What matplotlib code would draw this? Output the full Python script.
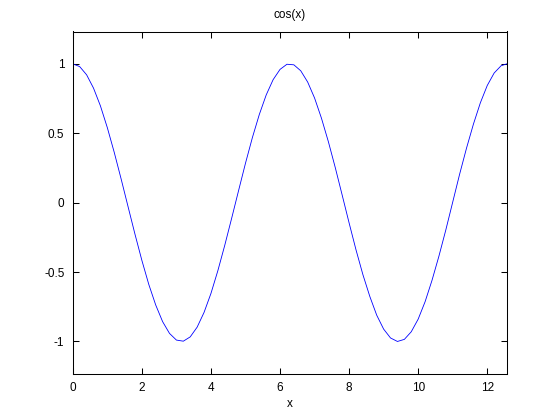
import matplotlib
matplotlib.use("Agg")
import matplotlib.pyplot as plt

# Values
x = [0.0, 0.2, 0.4, 0.6, 0.8, 1.0, 1.2, 1.4, 1.6, 1.8, 2.0, 2.2, 2.4, 2.6, 2.8,
     3.0, 3.2, 3.4, 3.6, 3.8, 4.0, 4.2, 4.4, 4.6, 4.8, 5.0, 5.2, 5.4, 5.6, 5.8,
     6.0, 6.2, 6.4, 6.6, 6.8, 7.0, 7.2, 7.4, 7.6, 7.8, 8.0, 8.2, 8.4, 8.6, 8.8,
     9.0, 9.2, 9.4, 9.6, 9.8, 10.0, 10.2, 10.4, 10.6, 10.8, 11.0, 11.2, 11.4,
     11.6, 11.8, 12.0, 12.2, 12.4, 12.566]
y = [1.000, 0.980, 0.921, 0.825, 0.697, 0.540, 0.362, 0.170, -0.029, -0.227,
     -0.416, -0.589, -0.737, -0.857, -0.942, -0.990, -0.998, -0.967, -0.897,
     -0.791, -0.654, -0.490, -0.307, -0.112, 0.087, 0.284, 0.469, 0.635, 0.776,
     0.886, 0.960, 0.997, 0.993, 0.950, 0.869, 0.754, 0.608, 0.439, 0.252,
     0.054, -0.146, -0.340, -0.519, -0.676, -0.811, -0.911, -0.975, -1.000,
     -0.985, -0.930, -0.839, -0.714, -0.560, -0.386, -0.197, 0.004, 0.205,
     0.393, 0.566, 0.719, 0.844, 0.934, 0.986, 1.000]
xticks = [0, 2, 4, 6, 8, 10, 12]
yticks = [-1, -0.5, 0, 0.5, 1]
ytick_labels = ["-1", "-0.5", "0", "0.5", "1"]

plt.rcParams['font.family'] = ['Liberation Sans', 'DejaVu Sans']

fig = plt.figure(figsize=(5.6, 4.2), dpi=100)
ax = fig.add_axes([0.13, 0.11, 0.775, 0.815])
ax.plot(x, y, color='#0000ff', linewidth=0.6)
ax.set_xlim(0, 12.566)
ax.set_ylim(-1.233, 1.233)
ax.set_xticks(xticks)
ax.set_xticklabels([str(t) for t in xticks])
ax.set_yticks(yticks)
ax.set_yticklabels(ytick_labels)
ax.tick_params(direction='in', length=4, width=0.75, top=True, right=True,
               labelsize=8.5, pad=6, colors='black')
for s in ax.spines.values():
    s.set_linewidth(0.75)
ax.set_title("cos(x)", fontsize=8.5, pad=10)
ax.set_xlabel("x", fontsize=8.5, labelpad=3)
fig.savefig("out.png", dpi=100)
